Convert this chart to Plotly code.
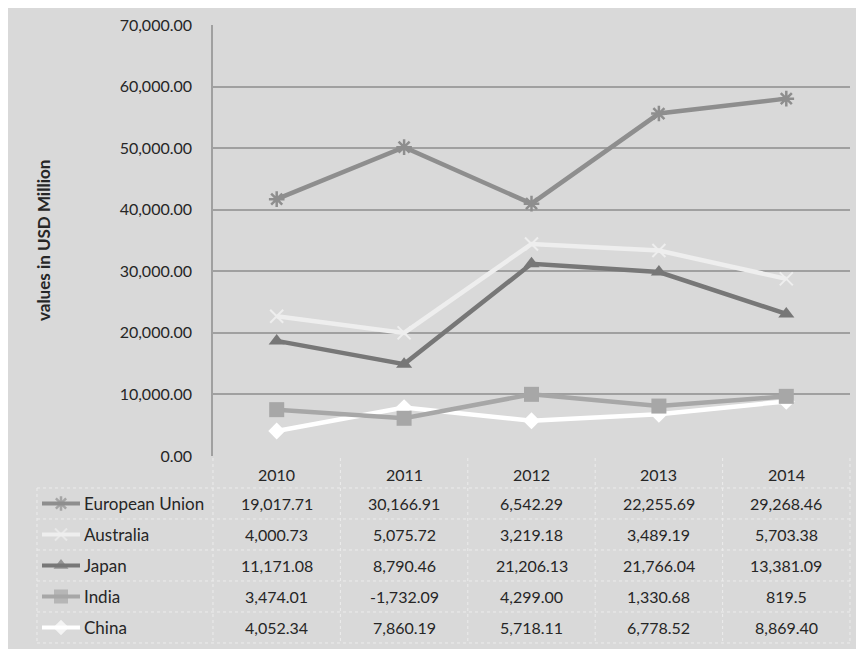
import numpy as np
import plotly.graph_objects as go

years = ["2010", "2011", "2012", "2013", "2014"]
series_names = ["European Union", "Australia", "Japan", "India", "China"]
eu = [19017.71, 30166.91, 6542.29, 22255.69, 29268.46]
australia = [4000.73, 5075.72, 3219.18, 3489.19, 5703.38]
japan = [11171.08, 8790.46, 21206.13, 21766.04, 13381.09]
india = [3474.01, -1732.09, 4299.00, 1330.68, 819.5]
china = [4052.34, 7860.19, 5718.11, 6778.52, 8869.40]
table_text = {
    "European Union": ["19,017.71", "30,166.91", "6,542.29", "22,255.69", "29,268.46"],
    "Australia": ["4,000.73", "5,075.72", "3,219.18", "3,489.19", "5,703.38"],
    "Japan": ["11,171.08", "8,790.46", "21,206.13", "21,766.04", "13,381.09"],
    "India": ["3,474.01", "-1,732.09", "4,299.00", "1,330.68", "819.5"],
    "China": ["4,052.34", "7,860.19", "5,718.11", "6,778.52", "8,869.40"],
}
y_ticks = [0, 10000, 20000, 30000, 40000, 50000, 60000, 70000]

values = {"European Union": eu, "Australia": australia, "Japan": japan,
          "India": india, "China": china}

# stacked line chart: China at bottom, then India, Japan, Australia, EU
stack_order = ["China", "India", "Japan", "Australia", "European Union"]
stacked = {}
running = np.zeros(len(years))
for name in stack_order:
    running = running + np.array(values[name])
    stacked[name] = running.copy()

styles = {
    "European Union": dict(color="#8e8e8e", symbol="asterisk-open", size=13, mlw=2.5),
    "Australia": dict(color="#eeeeee", symbol="x-thin-open", size=13, mlw=2),
    "Japan": dict(color="#777777", symbol="triangle-up", size=14, mlw=0),
    "India": dict(color="#a7a7a7", symbol="square", size=15, mlw=0),
    "China": dict(color="#ffffff", symbol="diamond", size=13, mlw=0),
}

W, H = 864, 649
OFF = 8  # page body margin shifts the figure by 8px
PL, PR, PT, PB = 213 - OFF, 850 - OFF, 25 - OFF, 456 - OFF
FONT = "Lato, Carlito, Calibri, sans-serif"
TXT = "#262626"

fig = go.Figure()
for name in stack_order:
    s = styles[name]
    fig.add_trace(go.Scatter(
        x=years, y=stacked[name], mode="lines+markers", name=name,
        line=dict(color=s["color"], width=4.5),
        marker=dict(symbol=s["symbol"], size=s["size"], color=s["color"],
                    line=dict(color=s["color"], width=s["mlw"])),
        showlegend=False, xaxis="x", yaxis="y"))

col_edges = [PL + (PR - PL) * i / len(years) for i in range(len(years) + 1)]
row_h = 31
header_top, header_bot = PB, 488 - OFF
row_tops = [header_bot + row_h * i for i in range(len(series_names) + 1)]
label_left = 37 - OFF

shapes = []
gl = dict(color="#ececec", width=1, dash="dot")
for yv in row_tops:
    shapes.append(dict(type="line", xref="x2", yref="y2", x0=label_left, x1=PR, y0=yv, y1=yv, line=gl))
for xv in col_edges:
    shapes.append(dict(type="line", xref="x2", yref="y2", x0=xv, x1=xv, y0=header_top + 2,
                       y1=row_tops[-1], line=gl))
shapes.append(dict(type="line", xref="x2", yref="y2", x0=label_left, x1=label_left,
                   y0=header_bot, y1=row_tops[-1], line=gl))

annotations = []
for i, yr in enumerate(years):
    annotations.append(dict(xref="x2", yref="y2", x=(col_edges[i] + col_edges[i + 1]) / 2,
                            y=(header_top + header_bot) / 2 + 2, text=yr, showarrow=False,
                            font=dict(family=FONT, size=16, color=TXT)))
for r, name in enumerate(series_names):
    yc = (row_tops[r] + row_tops[r + 1]) / 2
    annotations.append(dict(xref="x2", yref="y2", x=82 - OFF, y=yc, text=name, showarrow=False,
                            xanchor="left", font=dict(family=FONT, size=17, color=TXT)))
    for i in range(len(years)):
        annotations.append(dict(xref="x2", yref="y2", x=(col_edges[i] + col_edges[i + 1]) / 2,
                                y=yc, text=table_text[name][i], showarrow=False,
                                font=dict(family=FONT, size=16, color=TXT)))
    s = styles[name]
    fig.add_trace(go.Scatter(
        x=[42 - OFF, 61 - OFF, 80 - OFF], y=[yc, yc, yc], mode="lines+markers",
        line=dict(color=s["color"], width=4),
        marker=dict(symbol=s["symbol"], size=[0, s["size"] - 1, 0], color=s["color"],
                    line=dict(color=s["color"], width=s["mlw"])),
        showlegend=False, hoverinfo="skip", xaxis="x2", yaxis="y2"))

annotations.append(dict(xref="x2", yref="y2", x=43 - OFF, y=241 - OFF,
                        text="<b>values in USD Million</b>",
                        textangle=-90, showarrow=False,
                        font=dict(family=FONT, size=17, color=TXT)))

fig.update_layout(
    width=W, height=H, autosize=False,
    margin=dict(l=0, r=0, t=0, b=0, pad=0, autoexpand=False),
    paper_bgcolor="#d9d9d9", plot_bgcolor="rgba(0,0,0,0)",
    xaxis=dict(domain=[PL / W, PR / W], type="category", range=[-0.5, 4.5],
               showticklabels=False, showgrid=False, zeroline=False, ticks="",
               anchor="y", automargin=False),
    yaxis=dict(domain=[1 - PB / H, 1 - PT / H], range=[0, 70000], tickvals=y_ticks,
               tickformat=",.2f", showgrid=True, gridcolor="#a0a0a0", gridwidth=1.5,
               zeroline=False, showline=True, linecolor="#a0a0a0", linewidth=1.5,
               ticks="", ticklabelstandoff=16, automargin=False,
               tickfont=dict(family=FONT, size=16, color=TXT), anchor="x"),
    xaxis2=dict(domain=[0, 1], range=[0, W], visible=False, anchor="y2", automargin=False),
    yaxis2=dict(domain=[0, 1], range=[H, 0], visible=False, anchor="x2", automargin=False),
    shapes=shapes, annotations=annotations,
)

fig.write_html("out.html")
